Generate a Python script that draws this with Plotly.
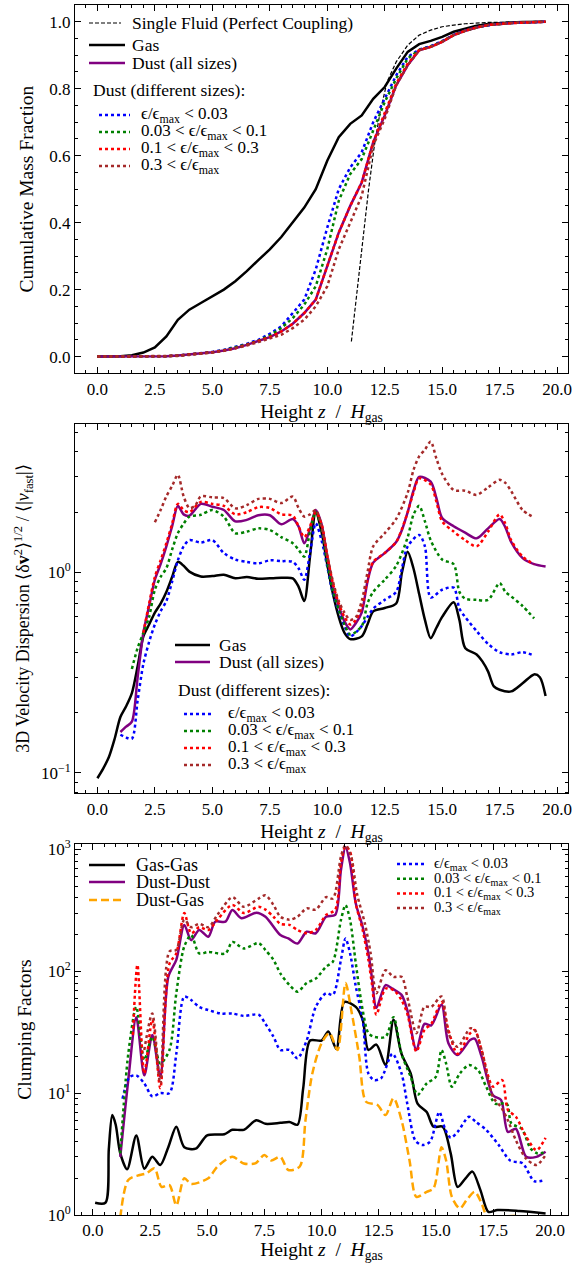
import plotly.graph_objects as go

FONT = "Liberation Serif"

# ---------------- Panel 1: cumulative mass fraction ----------------
z_cum = [0.0, 0.5, 1.0, 1.5, 2.0, 2.5, 3.0, 3.5, 4.0, 4.5, 5.0, 5.5, 6.0, 6.5, 7.0, 7.5,
         8.0, 8.5, 9.0, 9.5, 10.0, 10.5, 11.0, 11.5, 12.0, 12.5, 13.0, 13.5, 14.0, 14.5,
         15.0, 15.5, 16.0, 16.5, 17.0, 17.5, 18.0, 18.5, 19.0, 19.5]
gas_cum = [0, 0, 0.001, 0.004, 0.012, 0.027, 0.06, 0.11, 0.14, 0.16, 0.18, 0.2, 0.225, 0.255,
           0.288, 0.32, 0.357, 0.40, 0.445, 0.50, 0.585, 0.655, 0.695, 0.72, 0.77, 0.805, 0.86,
           0.91, 0.933, 0.943, 0.955, 0.97, 0.98, 0.988, 0.993, 0.996, 0.998, 0.999, 1.0, 1.0]
dust_cum = [0, 0, 0, 0, 0, 0, 0.001, 0.003, 0.006, 0.009, 0.013, 0.018, 0.025, 0.035, 0.046,
            0.058, 0.075, 0.098, 0.13, 0.17, 0.27, 0.37, 0.45, 0.52, 0.64, 0.72, 0.81, 0.87,
            0.915, 0.925, 0.94, 0.96, 0.973, 0.983, 0.99, 0.994, 0.996, 0.998, 0.999, 1.0]
cum_eps1 = [0, 0, 0, 0, 0, 0, 0.001, 0.003, 0.006, 0.01, 0.014, 0.02, 0.028, 0.038, 0.05,
            0.068, 0.09, 0.13, 0.17, 0.26, 0.385, 0.5, 0.565, 0.61, 0.70, 0.77, 0.84, 0.895,
            0.917, 0.927, 0.942, 0.961, 0.974, 0.984, 0.99, 0.994, 0.996, 0.998, 0.999, 1.0]
cum_eps2 = [0, 0, 0, 0, 0, 0, 0.001, 0.003, 0.006, 0.009, 0.013, 0.019, 0.027, 0.036, 0.047,
            0.063, 0.085, 0.115, 0.155, 0.21, 0.32, 0.465, 0.545, 0.59, 0.675, 0.76, 0.83, 0.89,
            0.916, 0.926, 0.941, 0.96, 0.973, 0.983, 0.99, 0.994, 0.996, 0.998, 0.999, 1.0]
cum_eps3 = [0, 0, 0, 0, 0, 0, 0.001, 0.003, 0.006, 0.009, 0.013, 0.018, 0.025, 0.035, 0.046,
            0.058, 0.075, 0.098, 0.13, 0.17, 0.27, 0.37, 0.45, 0.52, 0.64, 0.725, 0.815, 0.875,
            0.915, 0.925, 0.94, 0.96, 0.973, 0.983, 0.99, 0.994, 0.996, 0.998, 0.999, 1.0]
cum_eps4 = [0, 0, 0, 0, 0, 0, 0.001, 0.002, 0.005, 0.008, 0.012, 0.017, 0.024, 0.033, 0.043,
            0.053, 0.065, 0.085, 0.11, 0.15, 0.21, 0.32, 0.40, 0.48, 0.63, 0.71, 0.81, 0.87,
            0.915, 0.925, 0.94, 0.96, 0.973, 0.983, 0.99, 0.994, 0.996, 0.998, 0.999, 1.0]
z_single = [11.05, 11.3, 11.55, 11.8, 12.05, 12.3, 12.6, 13.0, 13.5, 14.0, 14.5, 15.0, 15.5,
            16.0, 17.0, 18.0, 19.5]
single_cum = [0.045, 0.2, 0.35, 0.5, 0.63, 0.73, 0.82, 0.88, 0.93, 0.96, 0.975, 0.985, 0.99,
              0.994, 0.998, 0.999, 1.0]

# ---------------- Panel 2: velocity dispersion ----------------
z_vgas = [0, 0.25, 0.5, 0.75, 1.0, 1.25, 1.5, 1.75, 2.0, 2.25, 2.5, 2.75, 3.0, 3.25, 3.5, 3.75,
          4.0, 4.5, 5.0, 5.5, 6.0, 6.5, 7.0, 7.5, 8.0, 8.5, 8.75, 9.0, 9.25, 9.5, 9.75, 10.0,
          10.25, 10.5, 10.75, 11.0, 11.5, 11.75, 12.0, 12.5, 13.0, 13.25, 13.5, 13.75, 14.0,
          14.25, 14.5, 14.75, 15.0, 15.5, 15.75, 16.0, 16.5, 16.75, 17.0, 17.25, 17.5, 18.0,
          18.5, 19.0, 19.25, 19.5]
vel_gas = [0.094, 0.105, 0.12, 0.148, 0.19, 0.215, 0.25, 0.34, 0.48, 0.55, 0.63, 0.70, 0.80,
           0.95, 1.13, 1.08, 1.01, 0.955, 0.96, 0.975, 0.935, 0.95, 0.93, 0.935, 0.94, 0.935,
           0.85, 0.72, 1.2, 2.0, 1.6, 1.1, 0.78, 0.6, 0.5, 0.465, 0.48, 0.55, 0.64, 0.665, 0.70,
           1.0, 1.27, 1.05, 0.78, 0.58, 0.47, 0.53, 0.6, 0.71, 0.58, 0.42, 0.39, 0.36, 0.32,
           0.27, 0.26, 0.255, 0.28, 0.31, 0.3, 0.242]
z_vdust = [1.0, 1.25, 1.5, 1.75, 2.0, 2.25, 2.5, 2.75, 3.0, 3.25, 3.5, 3.75, 4.0, 4.5, 5.0, 5.5,
           6.0, 6.5, 7.0, 7.5, 8.0, 8.5, 8.75, 9.0, 9.25, 9.5, 9.75, 10.0, 10.25, 10.5, 10.75,
           11.0, 11.25, 11.5, 11.75, 12.0, 12.5, 13.0, 13.25, 13.5, 13.75, 14.0, 14.5, 14.75,
           15.0, 15.5, 16.0, 16.5, 17.0, 17.5, 17.75, 18.0, 18.5, 19.0, 19.5]
vel_dust = [0.16, 0.17, 0.18, 0.3, 0.5, 0.68, 0.92, 1.1, 1.35, 1.7, 2.15, 1.95, 1.92, 2.2, 2.13,
            2.05, 1.8, 1.83, 1.93, 1.93, 1.74, 1.85, 1.7, 1.4, 1.65, 2.05, 1.75, 1.2, 0.85, 0.68,
            0.57, 0.52, 0.56, 0.63, 0.9, 1.12, 1.25, 1.42, 1.63, 2.0, 2.55, 3.0, 2.84, 2.35, 1.87,
            1.7, 1.58, 1.48, 1.66, 1.85, 1.68, 1.42, 1.18, 1.1, 1.07]
z_veps1 = [1.0, 1.25, 1.5, 1.75, 2.0, 2.25, 2.5, 2.75, 3.0, 3.25, 3.5, 3.75, 4.0, 4.5, 5.0, 5.5,
           6.0, 6.5, 7.0, 7.5, 8.0, 8.5, 8.75, 9.0, 9.25, 9.5, 9.75, 10.0, 10.25, 10.5, 10.75,
           11.0, 11.5, 11.75, 12.0, 12.5, 13.0, 13.25, 13.5, 14.0, 14.25, 14.5, 15.0, 15.5,
           15.75, 16.0, 16.5, 17.0, 17.5, 18.0, 18.5, 19.0]
vel_eps1 = [0.155, 0.15, 0.148, 0.23, 0.35, 0.45, 0.55, 0.64, 0.72, 0.9, 1.15, 1.35, 1.45, 1.41,
            1.45, 1.25, 1.16, 1.13, 1.11, 1.15, 1.14, 1.13, 1.05, 0.92, 1.25, 1.76, 1.45, 1.07,
            0.78, 0.64, 0.54, 0.48, 0.54, 0.6, 0.66, 0.73, 0.8, 1.05, 1.35, 1.54, 1.35, 0.75,
            0.82, 0.84, 0.66, 0.6, 0.51, 0.44, 0.4, 0.39, 0.4, 0.385]
z_veps2 = [1.5, 1.75, 2.0, 2.25, 2.5, 2.75, 3.0, 3.25, 3.5, 3.75, 4.0, 4.5, 5.0, 5.5, 6.0, 6.5,
           7.0, 7.5, 8.0, 8.5, 8.75, 9.0, 9.25, 9.5, 9.75, 10.0, 10.25, 10.5, 10.75, 11.0, 11.5,
           11.75, 12.0, 12.5, 13.0, 13.5, 13.75, 14.0, 14.25, 14.5, 15.0, 15.5, 15.75, 16.0,
           16.5, 17.0, 17.5, 17.75, 18.0, 18.5, 19.0]
vel_eps2 = [0.33, 0.42, 0.5, 0.6, 0.82, 0.95, 1.05, 1.3, 1.57, 1.75, 1.9, 1.94, 2.05, 1.9, 1.57,
            1.6, 1.66, 1.63, 1.5, 1.4, 1.3, 1.2, 1.6, 2.0, 1.65, 1.11, 0.8, 0.65, 0.55, 0.49,
            0.54, 0.7, 0.8, 0.92, 1.08, 1.5, 1.94, 2.15, 1.8, 1.45, 1.16, 1.1, 0.8, 0.74, 0.73,
            0.73, 0.885, 0.8, 0.76, 0.68, 0.59]
z_veps3 = [2.0, 2.25, 2.5, 2.75, 3.0, 3.25, 3.5, 3.75, 4.0, 4.5, 5.0, 5.5, 6.0, 6.5, 7.0, 7.5,
           8.0, 8.5, 8.75, 9.0, 9.25, 9.5, 9.75, 10.0, 10.25, 10.5, 10.75, 11.0, 11.25, 11.5,
           11.75, 12.0, 12.5, 13.0, 13.25, 13.5, 13.75, 14.0, 14.5, 14.75, 15.0, 15.5, 16.0,
           16.5, 17.0, 17.5, 17.75, 18.0, 18.5, 19.0]
vel_eps3 = [0.5, 0.7, 0.95, 1.15, 1.4, 1.75, 2.2, 2.05, 2.0, 2.25, 2.2, 2.15, 1.95, 2.0, 2.12,
            2.1, 1.95, 1.92, 1.7, 1.5, 1.7, 2.0, 1.75, 1.22, 0.88, 0.7, 0.6, 0.55, 0.58, 0.67,
            0.92, 1.13, 1.25, 1.42, 1.65, 2.0, 2.5, 2.95, 2.75, 2.25, 1.8, 1.6, 1.45, 1.35, 1.6,
            1.95, 1.75, 1.45, 1.2, 1.1]
z_veps4 = [2.5, 2.75, 3.0, 3.25, 3.5, 3.75, 4.0, 4.25, 4.5, 5.0, 5.5, 6.0, 6.5, 7.0, 7.5, 8.0,
           8.5, 8.75, 9.0, 9.25, 9.5, 9.75, 10.0, 10.25, 10.5, 10.75, 11.0, 11.25, 11.5, 11.75,
           12.0, 12.5, 13.0, 13.5, 13.75, 14.0, 14.25, 14.5, 14.75, 15.0, 15.5, 16.0, 16.5,
           17.0, 17.5, 17.75, 18.0, 18.5, 19.0]
vel_eps4 = [1.78, 2.05, 2.4, 2.7, 3.07, 2.4, 2.1, 2.15, 2.4, 2.37, 2.35, 2.09, 2.17, 2.33, 2.33,
            2.22, 2.39, 2.1, 1.9, 1.95, 2.05, 1.7, 1.22, 0.9, 0.72, 0.63, 0.58, 0.6, 0.72, 1.0,
            1.35, 1.57, 1.85, 2.5, 3.24, 3.8, 4.1, 4.5, 3.7, 3.1, 2.58, 2.56, 2.44, 2.66, 2.9,
            2.8, 2.55, 2.05, 1.88]

# ---------------- Panel 3: clumping factors ----------------
z_gg = [0.1, 0.55, 0.7, 0.85, 1.0, 1.2, 1.5, 1.9, 2.25, 2.6, 2.95, 3.3, 3.65, 4.0, 4.5, 5.0,
        5.75, 6.1, 6.6, 7.15, 7.55, 8.2, 8.6, 8.95, 9.2, 9.5, 10.0, 10.3, 10.65, 11.0, 11.5,
        11.8, 12.05, 12.4, 12.8, 13.15, 13.5, 13.9, 14.2, 14.6, 14.9, 15.3, 15.65, 15.95, 16.3,
        16.6, 16.95, 17.3, 17.7, 18.65, 19.8]
clump_gg = [1.26, 1.26, 3.5, 6.6, 5.5, 3.2, 2.37, 4.5, 2.4, 3.0, 2.57, 3.6, 5.3, 3.6, 3.5, 4.5,
            4.6, 5.0, 5.0, 6.0, 5.6, 5.7, 5.8, 5.5, 11, 27, 27, 32, 23, 56, 51, 40, 22.6, 25, 17,
            40, 21, 14.5, 8.2, 7.0, 5.3, 5.3, 3.2, 1.7, 2.0, 2.27, 1.6, 1.06, 1.1, 1.08, 1.03]
z_dd = [1.2, 1.55, 1.9, 2.25, 2.6, 2.95, 3.3, 3.65, 4.0, 4.3, 4.65, 5.05, 5.35, 5.8, 6.1, 6.5,
        7.15, 7.55, 8.2, 8.55, 8.95, 9.35, 9.75, 10.2, 10.6, 10.85, 11.05, 11.25, 11.5, 11.8,
        12.05, 12.2, 12.4, 12.8, 13.1, 13.5, 13.75, 14.15, 14.5, 14.8, 15.25, 15.55, 15.95,
        16.5, 16.7, 17.0, 17.5, 17.85, 18.15, 18.5, 18.95, 19.4, 19.8]
clump_dd = [3.0, 12.8, 42, 14, 30, 13.6, 90, 124, 240, 180, 218, 192, 255, 255, 318, 272, 302,
            280, 198, 186, 169, 211, 205, 280, 290, 677, 1040, 767, 360, 232, 140, 90, 50, 77,
            72, 64, 48, 22.6, 37, 36, 53, 25.6, 20.5, 27.3, 28, 20, 9.6, 8.8, 4.8, 5.1, 3.0,
            3.0, 3.3]
z_dg = [1.2, 1.55, 2.05, 2.35, 2.7, 3.0, 3.35, 3.65, 4.0, 4.3, 5.05, 5.45, 6.1, 6.6, 7.1, 7.5,
        7.8, 8.2, 8.55, 9.05, 9.3, 9.6, 10.0, 10.35, 10.7, 11.05, 11.3, 11.65, 11.95, 12.45,
        12.8, 13.15, 13.5, 13.85, 14.15, 14.6, 14.9, 15.25, 15.45, 15.7, 16.05, 16.35, 16.7,
        17.0, 17.2, 17.5, 18.0, 18.5, 19.0, 19.5]
clump_dg = [0.95, 1.94, 2.13, 2.2, 2.42, 1.7, 1.76, 1.2, 2.0, 1.8, 2.0, 2.5, 3.0, 2.65, 2.65,
            3.1, 2.8, 3.0, 2.34, 2.5, 6.0, 14.5, 25.6, 31, 22.6, 80, 48, 20, 8.5, 8.0, 6.6, 9.1,
            6.0, 2.8, 1.41, 1.55, 1.65, 3.6, 2.8, 1.41, 1.13, 1.33, 1.55, 1.25, 1.0, 0.9, 0.97,
            0.98, 0.93, 0.9]
z_ceps1 = [1.3, 1.6, 1.9, 2.25, 2.6, 2.95, 3.35, 3.65, 4.0, 4.3, 4.65, 5.05, 5.6, 6.1, 6.6,
           7.25, 7.55, 7.9, 8.2, 8.6, 8.95, 9.35, 9.75, 10.2, 10.5, 10.85, 11.05, 11.25, 11.5,
           11.8, 12.05, 12.3, 12.6, 13.1, 13.5, 13.75, 14.1, 14.4, 14.75, 15.15, 15.4, 15.65,
           15.95, 16.45, 16.75, 17.2, 17.75, 18.25, 18.8, 19.3, 19.8]
clump_eps1 = [9.0, 13.5, 14, 12, 9.4, 10, 10, 21, 62, 58, 51, 48, 45, 45, 43, 44, 37, 29, 22.6,
              22.6, 19.3, 27, 51, 66, 64, 124, 186, 140, 75, 40, 14.5, 12.8, 13.2, 21, 14.5,
              8.2, 4.1, 3.75, 4.0, 7.0, 5.1, 4.3, 4.8, 6.4, 5.8, 5.0, 3.75, 2.8, 2.65, 1.9, 1.94]
z_ceps2 = [1.2, 1.55, 1.9, 2.25, 2.6, 2.95, 3.35, 3.65, 4.0, 4.3, 4.65, 5.05, 5.8, 6.1, 6.6,
           7.25, 7.55, 7.9, 8.2, 8.6, 8.95, 9.35, 9.75, 10.2, 10.5, 10.85, 11.05, 11.25, 11.5,
           11.8, 12.05, 12.3, 12.8, 13.15, 13.5, 13.9, 14.2, 14.6, 15.0, 15.25, 15.45, 15.7,
           16.05, 16.45, 16.85, 17.2, 17.6, 18.1, 18.3, 18.75, 19.15, 19.45, 19.8]
clump_eps2 = [3.2, 21, 51, 18.7, 29, 17.5, 22.6, 66, 160, 198, 140, 144, 140, 174, 154, 170,
              149, 124, 96, 77, 68, 80, 87, 109, 120, 263, 349, 263, 116, 48, 31, 29, 29, 42,
              21, 13.6, 9.7, 12, 13.6, 22.6, 17.5, 11.3, 14.5, 17, 15.4, 11.3, 8.2, 8.2, 5.65,
              5.1, 3.5, 3.2, 3.3]
z_ceps3 = [1.75, 1.95, 2.25, 2.6, 2.95, 3.35, 3.65, 4.0, 4.3, 4.65, 5.05, 5.45, 6.1, 6.6, 7.25,
           7.55, 7.9, 8.2, 8.6, 8.95, 9.35, 9.75, 10.2, 10.6, 10.85, 11.05, 11.25, 11.5, 11.8,
           12.05, 12.2, 12.4, 12.8, 13.15, 13.5, 13.75, 14.15, 14.5, 14.8, 15.25, 15.55, 15.95,
           16.5, 16.7, 17.0, 17.5, 17.9, 18.15, 18.5, 18.95, 19.4, 19.8]
clump_eps3 = [30, 113, 14.5, 40, 11, 115, 140, 300, 205, 230, 218, 265, 350, 300, 338, 320, 280,
              245, 240, 218, 205, 218, 290, 320, 770, 1060, 960, 360, 218, 124, 80, 44, 72, 70,
              58, 45, 22, 33, 37, 56, 33, 21, 31, 33, 22.6, 11.3, 12.8, 7.3, 6.4, 4.4, 3.4, 4.3]
z_ceps4 = [2.25, 2.6, 2.95, 3.35, 3.65, 4.0, 4.3, 4.65, 5.05, 5.45, 6.1, 6.6, 7.25, 7.55, 7.9,
           8.2, 8.6, 8.95, 9.35, 9.75, 10.2, 10.5, 10.85, 11.05, 11.3, 11.55, 11.9, 12.15, 12.4,
           12.8, 13.15, 13.5, 13.75, 14.15, 14.5, 14.8, 15.25, 15.55, 15.95, 16.5, 16.7, 17.0,
           17.5, 17.85, 18.15, 18.5, 18.95, 19.4, 19.8]
clump_eps4 = [22.6, 45, 12, 145, 150, 265, 230, 245, 230, 290, 405, 338, 395, 420, 350, 280, 265,
              280, 328, 320, 405, 395, 870, 1085, 870, 435, 245, 140, 66, 102, 90, 90, 62, 31, 51,
              51, 62, 31, 24, 34, 33, 22.6, 9.3, 7.7, 6.0, 4.1, 2.9, 2.57, 3.1]

x_ticks = [0, 2.5, 5, 7.5, 10, 12.5, 15, 17.5, 20]
x_ticktext = ["0.0", "2.5", "5.0", "7.5", "10.0", "12.5", "15.0", "17.5", "20.0"]

EPS_LABELS = ["ϵ/ϵ<sub>max</sub> &lt; 0.03",
              "0.03 &lt; ϵ/ϵ<sub>max</sub> &lt; 0.1",
              "0.1 &lt; ϵ/ϵ<sub>max</sub> &lt; 0.3",
              "0.3 &lt; ϵ/ϵ<sub>max</sub>"]
EPS_COLORS = ["blue", "green", "red", "brown"]

# ---------------- layout geometry ----------------
W_FIG, H_FIG = 584, 1263
ML, MR, MT, MB = 75, 16, 5, 48
PW = W_FIG - ML - MR
PH = H_FIG - MT - MB


def px(x):
    return (x - ML) / PW


def py(y):
    return 1 - (y - MT) / PH


fig = go.Figure()


def line_trace(x, y, color, width, dash, xa, ya, shape="linear"):
    fig.add_trace(go.Scatter(x=x, y=y, mode="lines", showlegend=False, hoverinfo="skip",
                             line=dict(color=color, width=width, dash=dash, shape=shape,
                                       smoothing=0.8 if shape == "spline" else None),
                             xaxis=xa, yaxis=ya))


# panel 1
line_trace(z_single, single_cum, "black", 1.2, "4px,2px", "x", "y")
line_trace(z_cum, gas_cum, "black", 2.5, "solid", "x", "y")
line_trace(z_cum, dust_cum, "purple", 2.5, "solid", "x", "y")
for yy, c in zip([cum_eps1, cum_eps2, cum_eps3, cum_eps4], EPS_COLORS):
    line_trace(z_cum, yy, c, 2.5, "dot", "x", "y")

# panel 2
line_trace(z_vgas, vel_gas, "black", 2.5, "solid", "x2", "y2", "spline")
line_trace(z_vdust, vel_dust, "purple", 2.5, "solid", "x2", "y2", "spline")
for xx, yy, c in zip([z_veps1, z_veps2, z_veps3, z_veps4],
                     [vel_eps1, vel_eps2, vel_eps3, vel_eps4], EPS_COLORS):
    line_trace(xx, yy, c, 2.5, "dot", "x2", "y2", "spline")

# panel 3
line_trace(z_gg, clump_gg, "black", 2.5, "solid", "x3", "y3", "spline")
line_trace(z_dd, clump_dd, "purple", 2.5, "solid", "x3", "y3", "spline")
line_trace(z_dg, clump_dg, "orange", 2.5, "8px,4px", "x3", "y3", "spline")
for xx, yy, c in zip([z_ceps1, z_ceps2, z_ceps3, z_ceps4],
                     [clump_eps1, clump_eps2, clump_eps3, clump_eps4], EPS_COLORS):
    line_trace(xx, yy, c, 2.5, "dot", "x3", "y3", "spline")

# ---------------- manual legends ----------------
shapes, annotations = [], []


def leg(x0, x1, y, tx, text, color, width, dash, size):
    shapes.append(dict(type="line", xref="paper", yref="paper", x0=px(x0), x1=px(x1),
                       y0=py(y), y1=py(y), line=dict(color=color, width=width, dash=dash)))
    annotations.append(dict(xref="paper", yref="paper", x=px(tx), y=py(y), text=text,
                            showarrow=False, xanchor="left", yanchor="middle",
                            font=dict(family=FONT, size=size, color="black")))


def leg_title(tx, y, text, size):
    annotations.append(dict(xref="paper", yref="paper", x=px(tx), y=py(y), text=text,
                            showarrow=False, xanchor="left", yanchor="middle",
                            font=dict(family=FONT, size=size, color="black")))


# top panel legends
leg(89, 121, 23, 130, "Single Fluid (Perfect Coupling)", "black", 1.2, "4px,2px", 17.5)
leg(89, 125, 45, 130, "Gas", "black", 2.5, "solid", 17.5)
leg(89, 125, 63, 130, "Dust (all sizes)", "purple", 2.5, "solid", 17.5)
leg_title(91, 90, "Dust (different sizes):", 17.5)
for i, (t, c) in enumerate(zip(EPS_LABELS, EPS_COLORS)):
    leg(99, 130, 115 + 17 * i, 139, t, c, 2.5, "dot", 17)

# middle panel legends
leg(175, 210, 645, 217, "Gas", "black", 2.5, "solid", 17.5)
leg(175, 210, 662, 217, "Dust (all sizes)", "purple", 2.5, "solid", 17.5)
leg_title(176, 690, "Dust (different sizes):", 17.5)
for i, (t, c) in enumerate(zip(EPS_LABELS, EPS_COLORS)):
    leg(184, 214, 714 + 17 * i, 226, t, c, 2.5, "dot", 17)

# bottom panel legends
leg(89, 125, 865, 134, "Gas-Gas", "black", 2.5, "solid", 18)
leg(89, 125, 882, 134, "Dust-Dust", "purple", 2.5, "solid", 18)
leg(89, 125, 900, 134, "Dust-Gas", "orange", 2.5, "8px,4px", 18)
for i, (t, c) in enumerate(zip(EPS_LABELS, EPS_COLORS)):
    leg(397, 425, 864 + 14.7 * i, 432, t, c, 2.5, "dot", 14.5)

# ---------------- axes ----------------
TICKFONT = dict(family=FONT, size=17, color="black")
TITLEFONT = dict(family=FONT, size=19.5, color="black")


def base_axis():
    return dict(showline=True, linecolor="black", linewidth=1, mirror="allticks",
                ticks="inside", ticklen=6, tickwidth=1, tickcolor="black",
                showgrid=False, zeroline=False, tickfont=TICKFONT, automargin=False)


XTITLE = "Height <i>z</i>  /  <i>H</i><sub>gas</sub>"


def x_axis(domain_anchor, rng):
    d = base_axis()
    d.update(range=rng, tickmode="array", tickvals=x_ticks, ticktext=x_ticktext,
             anchor=domain_anchor,
             minor=dict(ticks="inside", ticklen=3, tickwidth=1, tickcolor="black",
                        dtick=0.5, tick0=0, showgrid=False),
             title=dict(text=XTITLE, font=TITLEFONT, standoff=6))
    return d


log_minor_mid = [0.08, 0.09] + [k / 10 for k in range(2, 10)] + [2, 3, 4, 5]
log_minor_bot = [k * m for m in (1, 10, 100) for k in range(2, 10)]

y1 = base_axis()
y1.update(domain=[py(373.3), py(5)], range=[-0.05, 1.05], anchor="x",
          tickmode="array", tickvals=[0, 0.2, 0.4, 0.6, 0.8, 1.0],
          ticktext=["0.0", "0.2", "0.4", "0.6", "0.8", "1.0"],
          minor=dict(ticks="inside", ticklen=3, tickwidth=1, tickcolor="black",
                     dtick=0.05, tick0=0, showgrid=False),
          title=dict(text="Cumulative Mass Fraction", font=TITLEFONT, standoff=10))

y2 = base_axis()
y2.update(domain=[py(793.3), py(424)], type="log", range=[-1.102, 0.741], anchor="x2",
          tickmode="array", tickvals=[0.1, 1], ticktext=["10<sup>−1</sup>", "10<sup>0</sup>"],
          minor=dict(ticks="inside", ticklen=3, tickwidth=1, tickcolor="black",
                     tickmode="array", tickvals=log_minor_mid, showgrid=False),
          title=dict(text="3D Velocity Dispersion ⟨δ<b>v</b><sup>2</sup>⟩<sup>1/2</sup> / "
                          "⟨|<i>v</i><sub>fast</sub>|⟩",
                     font=dict(family=FONT, size=18, color="black"), standoff=6))

y3 = base_axis()
y3.update(domain=[py(1215), py(844)], type="log", range=[0, 3.044], anchor="x3",
          tickmode="array", tickvals=[1, 10, 100, 1000],
          ticktext=["10<sup>0</sup>", "10<sup>1</sup>", "10<sup>2</sup>", "10<sup>3</sup>"],
          minor=dict(ticks="inside", ticklen=3, tickwidth=1, tickcolor="black",
                     tickmode="array", tickvals=log_minor_bot, showgrid=False),
          title=dict(text="Clumping Factors", font=TITLEFONT, standoff=10))

fig.update_layout(
    template="none",
    width=W_FIG, height=H_FIG,
    margin=dict(l=ML, r=MR, t=MT, b=MB, pad=0),
    paper_bgcolor="white", plot_bgcolor="white",
    font=dict(family=FONT, color="black"),
    showlegend=False,
    xaxis=x_axis("y", [-0.975, 20.475]),
    xaxis2=x_axis("y2", [-0.975, 20.475]),
    xaxis3=x_axis("y3", [-0.78, 20.78]),
    yaxis=y1, yaxis2=y2, yaxis3=y3,
    shapes=shapes, annotations=annotations,
)

fig.write_html("out.html",
               config={"displayModeBar": False, "staticPlot": True},
               post_script="document.body.style.margin='0px';"
                           "document.body.style.overflow='hidden';")
